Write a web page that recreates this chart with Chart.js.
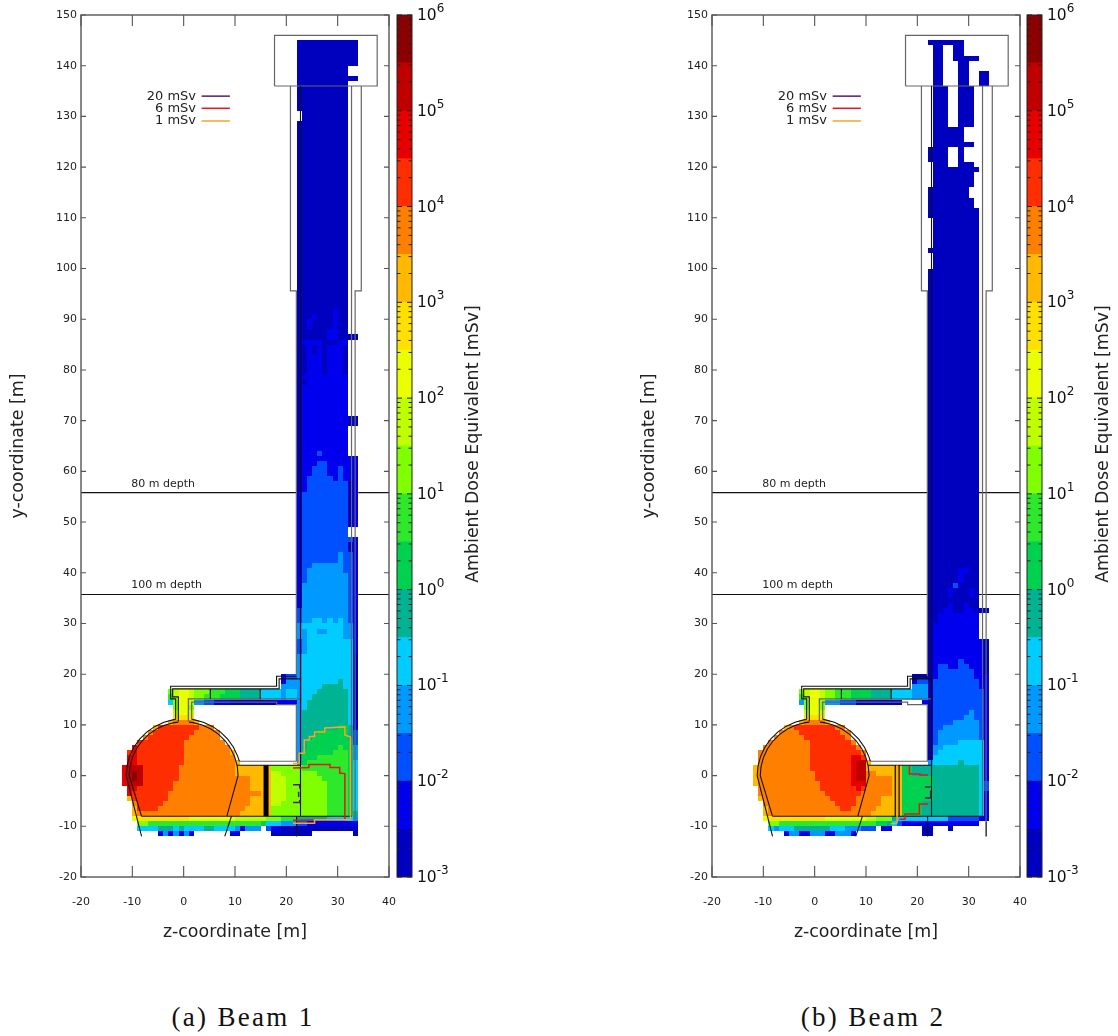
<!DOCTYPE html>
<html>
<head>
<meta charset="utf-8">
<title>Ambient dose equivalent</title>
<script src="https://cdn.jsdelivr.net/npm/chart.js@4/dist/chart.umd.min.js"></script>
<style>
  html, body { margin: 0; padding: 0; background: #fff; }
  #page { position: relative; width: 1118px; height: 1036px; overflow: hidden; }
  .box { position: absolute; top: 0; height: 960px; }
  .box canvas { filter: blur(0.35px); }
  .caption { position: absolute; top: 1002px; width: 300px; text-align: center; font: 27px "Liberation Serif", serif; letter-spacing: 2.3px; color: #111; }
</style>
</head>
<body>
<div id="page">
  <div class="box" style="left:0;width:400px"><canvas id="beam1"></canvas></div>
  <div class="box" style="left:380px;width:110px"><canvas id="bar1"></canvas></div>
  <div class="box" style="left:631px;width:400px"><canvas id="beam2"></canvas></div>
  <div class="box" style="left:1010px;width:110px"><canvas id="bar2"></canvas></div>
  <div class="caption" style="left:93px">(a) Beam 1</div>
  <div class="caption" style="left:723px">(b) Beam 2</div>
</div>
<script>
// dose bands, lowest first (half decades, mSv)
const doseEdges = [1e-3, 3.16e-3, 1e-2, 3.16e-2, 1e-1, 3.16e-1, 1, 3.16, 10, 31.6, 100, 316, 1e3, 3160, 1e4, 31600, 1e5, 316000, 1e6];
const doseColors = ['#0000bf', '#0000ef', '#0050ff', '#0099ff', '#00ccff', '#00b392', '#00d24f', '#2de82b', '#80ff00',
  '#bfff00', '#eaff00', '#ffe000', '#ffb900', '#ff8000', '#ff2e00', '#e60000', '#bf0000', '#8b0000'];
const doseDecades = [-3, -2, -1, 0, 1, 2, 3, 4, 5, 6];

// cell rows: [yFrom, yTo, z, band, z, band, ..., zEnd], band null = no score
const beam1Rows = [
  [140,144, 22,0,34], [138,139, 22,0,32], [137,137, 22,0,34], [131,136, 22,0,32], [129,130, 23,0,32],
  [92,128, 22,0,32], [91,91, 22,0,29,1,30,0,32], [90,90, 22,0,25,1,26,0,29,1,30,0,32],
  [88,89, 22,0,24,1,25,0,29,1,30,0,32], [87,87, 22,0,28,1,30,0,32], [86,86, 22,0,28,1,30,0,34],
  [85,85, 22,0,23,1,27,0,30,1,32], [83,84, 22,0,24,1,25,0,26,1,27,0,28,1,31,0,32],
  [79,82, 22,0,24,1,27,0,28,1,31,0,32], [78,78, 22,0,23,1,32], [77,77, 22,0,24,1,32], [71,76, 22,0,23,1,32],
  [69,70, 22,0,23,1,32,0,34], [64,68, 22,0,23,1,32], [63,63, 22,0,23,1,26,2,27,1,32], [62,62, 22,0,23,1,34],
  [61,61, 22,0,23,1,26,2,28,1,34], [59,60, 22,0,23,1,25,2,28,1,30,2,31,1,34], [58,58, 22,0,23,1,24,2,29,1,30,2,31,1,34],
  [56,57, 22,0,23,1,24,2,32,0,33,1,34], [49,55, 22,1,23,2,32,0,33,1,34], [47,48, 22,1,23,2,32], [46,46, 22,1,23,2,33,1,34],
  [44,45, 22,1,23,2,32,0,33,1,34], [42,43, 22,1,23,2,30,3,31,2,33,1,34], [41,41, 22,1,23,2,25,3,31,2,33,1,34],
  [40,40, 22,1,23,2,24,3,31,2,33,1,34], [38,39, 22,1,23,2,24,3,32,2,33,1,34], [33,37, 22,1,23,3,32,2,33,1,34],
  [31,32, 22,2,23,3,32,2,33,1,34], [30,30, 22,2,23,3,25,4,27,3,28,4,29,3,30,4,31,3,32,2,33,1,34],
  [29,29, 22,3,23,4,31,3,33,1,34], [28,28, 22,3,24,4,26,3,28,4,31,3,33,1,34], [27,27, 22,3,24,4,31,3,33,1,34],
  [24,26, 22,2,23,3,24,4,33,1,34], [20,23, 22,3,23,4,33,0,34],
  [19,19, 19,1,20,2,22,3,23,4,33,0,34], [18,18, 19,1,20,3,23,4,30,5,31,4,33,0,34], [17,17, 19,3,23,4,27,5,31,4,33,0,34],
  [16,16, -3,8,-2,9,-1,10,1,9,2,8,5,7,8,6,11,5,15,4,19,3,20,4,22,3,23,4,26,5,32,4,33,0,34],
  [15,15, -3,7,-2,9,-1,10,1,9,2,8,4,7,7,6,11,5,15,4,19,3,20,4,22,3,23,4,25,5,32,4,33,0,34],
  [14,14, -3,4,-2,8,-1,10,1,9,2,3,4,2,6,1,9,0,18,1,22,3,23,4,24,5,32,4,33,0,34],
  [13,13, -2,8,-1,10,1,8,2,null,22,3,23,4,24,5,32,4,33,0,34],
  [12,12, -2,9,-1,10,1,9,2,null,22,3,23,5,32,4,33,0,34],
  [11,11, -2,11,2,null,22,3,23,5,32,4,33,0,34],
  [10,10, -3,12,-2,13,2,12,3,null,22,3,23,5,32,4,33,1,34],
  [9,9, -6,12,-5,14,3,13,6,null,22,3,23,5,30,6,32,5,33,1,34],
  [8,8, -7,13,-6,14,2,13,7,null,22,3,23,5,26,6,32,5,33,2,34],
  [7,7, -8,13,-7,14,1,13,7,null,22,3,23,5,25,6,32,5,33,2,34],
  [6,6, -9,14,0,13,8,null,22,3,23,5,24,6,33,2,34],
  [5,5, -10,15,-9,14,0,13,9,null,22,3,23,5,24,6,30,7,31,6,33,3,34],
  [4,4, -11,14,-10,15,-9,14,0,13,9,12,10,null,22,3,23,6,29,7,32,6,33,3,34],
  [3,3, -11,15,-9,14,0,13,10,null,22,3,23,6,26,7,32,6,33,3,34],
  [2,2, -11,15,-9,14,0,13,10,12,11,null,22,3,23,6,24,7,32,6,33,4,34],
  [1,1, -12,15,-11,16,-8,14,-1,13,10,12,17,8,23,7,32,6,33,4,34],
  [0,0, -12,15,-11,16,-10,17,-9,16,-8,14,-1,13,10,12,17,9,19,8,26,7,32,6,33,4,34],
  [-1,-1, -12,15,-11,16,-10,17,-9,16,-8,14,-1,13,13,12,17,9,20,8,27,7,32,6,33,4,34],
  [-2,-2, -12,15,-11,16,-8,14,-2,13,13,12,17,9,20,8,28,7,32,6,33,4,34],
  [-3,-3, -11,15,-9,14,-2,13,13,12,17,9,20,8,28,7,32,6,33,4,34],
  [-4,-4, -11,15,-10,14,-3,13,15,12,17,9,20,8,28,7,32,6,33,4,34],
  [-5,-5, -11,12,-10,14,-3,13,13,12,17,9,20,8,28,7,32,6,33,4,34],
  [-6,-6, -10,13,-9,14,-4,13,13,12,17,9,19,8,28,7,32,6,33,4,34],
  [-7,-7, -10,12,-9,14,-5,13,12,12,17,8,28,7,32,6,33,4,34],
  [-8,-8, -10,12,-9,13,11,12,17,8,28,7,32,6,33,5,34],
  [-9,-9, -10,10,-9,11,1,10,10,9,16,8,19,7,22,5,28,4,33,3,34],
  [-10,-10, -9,8,-7,7,15,6,16,4,19,3,22,2,24,1,34],
  [-11,-11, -9,4,-5,5,-2,4,-1,5,0,4,4,5,6,4,10,3,11,1,12,3,15,null,16,2,17,1,19,0,34],
  [-12,-12, -5,1,-4,3,-3,1,-2,3,-1,1,0,3,1,1,2,null,9,1,11,null,17,0,25,null,33,0,34],
];

const beam2Rows = [
  [144,144, 22,0,29], [142,143, 23,0,25,null,27,0,29], [141,141, 23,0,25,null,27,0,32], [139,140, 23,0,25,null,28,0,30],
  [136,138, 23,0,25,null,28,0,30,null,32,0,34], [128,135, 23,0,26,null,28,0,31], [125,127, 23,0,29], [124,124, 23,0,31],
  [121,123, 22,0,26,null,28,0,29], [120,120, 23,0,26,null,28,0,31], [119,119, 23,0,32], [116,118, 23,0,31],
  [114,115, 22,0,30], [112,113, 22,0,31], [110,111, 22,0,32], [104,109, 23,0,32], [103,103, 22,0,32], [100,102, 23,0,32],
  [41,99, 22,0,32], [40,40, 22,0,28,1,30,0,32], [38,39, 22,0,28,1,29,0,32], [37,37, 22,0,27,2,28,0,32],
  [35,36, 22,0,26,1,27,0,30,1,31,0,32], [34,34, 22,0,32], [33,33, 22,0,26,1,27,0,29,1,30,0,32],
  [32,32, 22,0,25,1,27,0,29,1,31,0,34], [30,31, 22,0,24,1,32], [27,29, 22,0,23,1,32],
  [23,26, 22,0,23,1,33,0,34], [22,22, 22,0,23,1,28,2,29,1,33,0,34], [21,21, 22,0,23,1,24,2,26,1,28,2,30,1,33,0,34],
  [20,20, 22,0,23,1,24,2,31,1,33,0,34], [19,19, 19,0,23,1,24,2,31,1,33,1,34], [18,18, 19,0,20,2,22,0,23,2,32,1,34],
  [17,17, 19,3,22,0,23,2,32,1,34],
  [16,16, -3,8,-2,9,-1,10,1,9,2,8,4,7,7,6,11,5,15,4,19,3,22,0,23,2,33,1,34],
  [15,15, -3,7,-2,9,-1,10,1,9,2,8,4,7,7,6,11,5,15,4,19,3,22,0,23,2,33,1,34],
  [14,14, -3,3,-2,8,-1,10,1,8,2,3,5,2,8,0,17,null,21,1,22,0,23,2,33,1,34],
  [13,13, -2,8,-1,10,1,8,2,null,22,0,23,2,33,1,34],
  [12,12, -2,9,-1,10,1,9,2,null,22,0,23,2,30,3,31,2,33,1,34],
  [11,11, -2,11,2,null,22,0,23,2,29,3,31,2,33,1,34],
  [10,10, -3,12,-2,13,2,12,3,null,22,0,23,2,27,3,32,2,33,1,34],
  [9,9, -6,12,-5,13,-4,14,4,13,6,null,22,0,23,2,25,3,32,2,33,1,34],
  [8,8, -7,13,-3,14,5,13,7,null,22,0,23,2,24,3,32,2,33,1,34],
  [7,7, -8,13,-2,14,6,13,7,null,22,0,23,2,24,3,32,2,33,1,34],
  [6,6, -9,13,-1,14,7,13,8,null,22,0,23,2,24,3,28,4,33,1,34],
  [5,5, -10,13,-1,14,8,13,9,null,22,0,23,3,25,4,33,1,34],
  [4,4, -11,13,-1,14,9,13,10,null,22,0,23,3,24,4,33,1,34],
  [3,3, -11,13,-1,14,7,15,9,14,10,null,22,0,23,4,33,1,34],
  [2,2, -11,13,-1,14,7,15,8,16,10,12,11,null,22,3,23,4,28,5,29,4,33,1,34],
  [1,1, -12,12,-11,13,-1,14,7,15,8,16,10,12,17,6,19,5,32,4,33,1,34],
  [0,0, -12,12,-11,13,0,14,7,15,8,16,10,13,12,12,17,6,19,5,32,4,33,1,34],
  [-1,-1, -12,12,-11,13,0,14,7,15,8,16,10,13,15,12,17,6,23,5,32,4,33,1,34],
  [-2,-2, -12,12,-11,13,1,14,7,15,10,13,15,12,17,6,23,5,32,4,33,2,34],
  [-3,-3, -11,13,1,14,8,15,9,14,10,13,15,12,17,6,23,5,32,4,33,2,34],
  [-4,-4, -11,13,2,14,9,13,15,12,17,6,23,5,32,4,33,1,34],
  [-5,-5, -11,12,-10,13,3,14,8,13,13,12,17,6,23,5,32,4,33,1,34],
  [-6,-6, -10,13,4,14,8,13,13,12,17,6,21,5,32,4,33,1,34],
  [-7,-7, -10,12,-9,13,5,14,7,13,12,12,17,6,21,5,32,4,33,1,34],
  [-8,-8, -10,12,-9,13,11,12,17,6,21,5,32,4,33,1,34],
  [-9,-9, -10,10,-9,11,2,10,10,9,12,8,15,5,16,4,26,2,32,1,34],
  [-10,-10, -9,8,-7,7,12,6,14,5,15,4,16,2,17,1,32],
  [-11,-11, -9,4,-8,3,-7,4,-4,5,3,4,6,3,9,2,12,null,13,1,15,null,21,0,23,null,26,0,27],
  [-12,-12, -6,1,-5,3,-3,1,-1,3,2,1,4,3,7,1,8,null,21,0,23],
];

// geometry lines as [z, y] paths
const wallsBlack = [
  [[22.76,136],[22.76,-8.03]],
  [[-8.2,-8.03],[32.8,-8.03]],
  [[-1.04,10.55],[-1.84,10.44],[-3.63,9.96],[-5.3,9.18],[-6.81,8.12],[-8.12,6.82],[-9.18,5.3],[-9.96,3.63],[-10.44,1.84],[-10.6,0],[-8.2,-8.03]],
  [[1.04,10.55],[1.84,10.44],[3.63,9.96],[5.3,9.18],[6.81,8.12],[8.12,6.82],[9.18,5.3],[9.96,3.63],[10.44,1.84],[10.6,0],[8.4,-8.03]],
  [[-1.56,11.1],[-1.94,11.03],[-3.83,10.52],[-5.6,9.7],[-7.2,8.58],[-8.58,7.2],[-9.7,5.6],[-10.52,3.83],[-11.03,1.94],[-11.2,0],[-8.2,-12]],
  [[1.56,11.1],[1.94,11.03],[3.83,10.52],[5.6,9.7],[7.2,8.58],[8.58,7.2],[9.7,5.6],[10.52,3.83],[10.85,2.83]],
  [[10.5,2.04],[22.76,2.04]],
  [[9.3,-8.03],[8,-12]],
  [[-1.04,10.7],[-1.04,15.53],[-2.14,15.53],[-2.14,17.1],[18.6,17.1],[18.6,19.08],[22.76,19.08]],
  [[-1.56,11],[-1.56,15.13],[-2.53,15.13],[-2.53,17.63],[18.1,17.63],[18.1,19.6],[21.95,19.6]],
  [[5.2,15.13],[5.2,17.1]], [[14.9,15.13],[14.9,17.1]],
  [[22,-8.03],[22,-12]],
];
const wallsGray = [
  [[17.7,136],[37.7,136],[37.7,146],[17.7,146],[17.7,136]],
  [[21.95,19.6],[21.95,95.6],[20.8,95.6],[20.8,136]],
  [[34.6,136],[34.6,95.6],[33.4,95.6],[33.4,-9]],
  [[32.7,136],[32.7,-8.03]],
  [[0.91,10.7],[0.91,15.13],[22.76,15.13]],
  [[1.56,11.1],[1.56,14.47],[18.1,14.47],[18.1,14],[21.95,14],[21.95,2.83],[10.85,2.83]],
];
const beam1Block = [[[16.05,2.04],[16.05,-8.03]]];
const beam2Block = [[[15.7,2.04],[15.7,-8.03]], [[16.45,2.04],[16.45,-8.03]], [[33.4,-9],[33.4,-12]]];
const beam1Depth = [[[-20,55.8],[21.95,55.8]], [[34,55.8],[40,55.8]], [[-20,35.7],[21.95,35.7]], [[34,35.7],[40,35.7]]];
const beam2Depth = [[[-20,55.8],[21.95,55.8]], [[32,55.8],[40,55.8]], [[-20,35.7],[21.95,35.7]], [[32,35.7],[40,35.7]]];

// dose contours
const beam1Mark1 = [[[21.3,2.4],[22.5,2.4],[22.5,4.4],[23.5,4.4],[23.5,7],[24.5,7],[24.5,7.7],[25.5,7.7],[25.5,8.6],[27.5,8.6],[27.5,9.4],[31.4,9.6],[31.4,8],[32.5,7.6],[32.5,-8.7],[25.5,-8.7],[25.5,-9.4],[21.3,-9.4]]];
const beam1Mark6 = [[[21.3,1.5],[24.4,1.6],[24.4,2.2],[28.5,2.2],[28.5,1.6],[30.4,1.6],[30.4,0.5],[31.4,0.4],[31.4,-8.7],[21.3,-8.8]]];
const beam1Mark20 = [[[21.3,-1.8],[22.6,-1.8],[22.6,-2.6]], [[22.4,-3.2],[22.4,-4.2]], [[22.6,-4.8],[22.6,-5.3],[21.3,-5.3]]];
const beam2Mark1 = [[[16.05,2],[16.05,-9.3],[14.8,-9.5]]];
const beam2Mark6 = [[[18.45,1.95],[18.45,0.3],[20.5,0.3],[20.5,0.1],[22.1,0.1]], [[22.1,-5.6],[20.4,-5.6],[20.4,-7.6],[17.6,-7.6],[17.6,-8.6],[16.5,-8.6]]];
const beam2Mark20 = [[[21.5,-2.25],[22.6,-2.25]], [[22.6,-3],[22.6,-4.4],[21.5,-4.4]]];

const keyLabels = ['20 mSv', '6 mSv', '1 mSv'];
const keyColors = ['#5a1a6e', '#e8141a', '#f5a623'];
const keyRows = [134, 131.6, 129.1];
const depthNotes = [['80 m depth', 57.4], ['100 m depth', 37.5]];

const FONT = '"DejaVu Sans", sans-serif';
Chart.defaults.font.family = FONT;
Chart.defaults.color = '#222';

function toPoints(paths) {
  const pts = [];
  paths.forEach((path) => {
    path.forEach(([x, y]) => pts.push({ x, y }));
    pts.push({ x: NaN, y: NaN });
  });
  return pts;
}

function lineSet(label, paths, color, width) {
  return { label, data: toPoints(paths), showLine: true, borderColor: color, borderWidth: width, pointRadius: 0, spanGaps: false, fill: false };
}

function cellSets(rows) {
  const sets = doseColors.map((color, i) => ({ label: 'band ' + i, cellBand: i, cellColor: color, data: [], showLine: false, pointRadius: 0 }));
  rows.forEach((row) => {
    for (let i = 2; i < row.length - 1; i += 2) {
      if (row[i + 1] === null) continue;
      sets[row[i + 1]].data.push({ x: row[i], x2: row[i + 2], y: row[0], y2: row[1] + 1 });
    }
  });
  return sets;
}

// paints the dose cells under the geometry lines
const cellPlugin = {
  id: 'cells',
  beforeDatasetsDraw(chart) {
    const { ctx, scales: { x, y } } = chart;
    chart.data.datasets.forEach((set) => {
      if (set.cellColor === undefined) return;
      ctx.fillStyle = set.cellColor;
      set.data.forEach((c) => {
        const l = Math.round(x.getPixelForValue(c.x));
        const r = Math.round(x.getPixelForValue(c.x2));
        const t = Math.round(y.getPixelForValue(c.y2));
        const b = Math.round(y.getPixelForValue(c.y));
        ctx.fillRect(l, t, r - l, b - t);
      });
    });
  },
};

// gnuplot style frame with inward ticks, contour key and depth notes
const framePlugin = {
  id: 'frame',
  afterDatasetsDraw(chart) {
    const { ctx, chartArea: a, scales: { x, y } } = chart;
    ctx.save();
    ctx.strokeStyle = '#555';
    ctx.lineWidth = 1.4;
    ctx.strokeRect(a.left, a.top, a.right - a.left, a.bottom - a.top);
    ctx.lineWidth = 1.1;
    ctx.beginPath();
    x.ticks.forEach((t) => {
      const px = x.getPixelForValue(t.value);
      ctx.moveTo(px, a.bottom); ctx.lineTo(px, a.bottom - 11);
      ctx.moveTo(px, a.top); ctx.lineTo(px, a.top + 11);
    });
    y.ticks.forEach((t) => {
      const py = y.getPixelForValue(t.value);
      ctx.moveTo(a.left, py); ctx.lineTo(a.left + 5, py);
      ctx.moveTo(a.right, py); ctx.lineTo(a.right - 5, py);
    });
    ctx.stroke();

    ctx.fillStyle = '#222';
    ctx.font = '11px ' + FONT;
    ctx.textBaseline = 'middle';
    ctx.textAlign = 'left';
    depthNotes.forEach(([text, yVal]) => ctx.fillText(text, x.getPixelForValue(-10.2), y.getPixelForValue(yVal)));
    ctx.font = '13px ' + FONT;
    ctx.textAlign = 'right';
    keyLabels.forEach((text, i) => {
      const py = y.getPixelForValue(keyRows[i]);
      ctx.fillStyle = '#222';
      ctx.fillText(text, x.getPixelForValue(2.4), py);
      ctx.strokeStyle = keyColors[i];
      ctx.lineWidth = 1.5;
      ctx.beginPath();
      ctx.moveTo(x.getPixelForValue(3.5), py);
      ctx.lineTo(x.getPixelForValue(9), py);
      ctx.stroke();
    });
    ctx.restore();
  },
};

function createBeamChart(canvasId, { rows, block, blockWidth, depth, mark1, mark6, mark20 }) {
  return new Chart(document.getElementById(canvasId), {
    type: 'scatter',
    data: {
      datasets: [
        lineSet('1 mSv', mark1, keyColors[2], 1.5),
        lineSet('6 mSv', mark6, keyColors[1], 1.5),
        lineSet('20 mSv', mark20, keyColors[0], 1.5),
        lineSet('walls', wallsBlack, '#111', 1.1),
        lineSet('walls gray', wallsGray, '#666', 1.2),
        lineSet('block', block, '#000', blockWidth),
        lineSet('depth', depth, '#111', 1.1),
        ...cellSets(rows),
      ],
    },
    options: {
      responsive: true,
      maintainAspectRatio: false,
      animation: false,
      layout: { padding: { top: 15, right: 11, bottom: 17, left: 0 } },
      plugins: { legend: { display: false }, tooltip: { enabled: false } },
      scales: {
        x: {
          type: 'linear', min: -20, max: 40,
          grid: { display: false, drawTicks: true, tickLength: 19 }, border: { display: false },
          ticks: { stepSize: 10, autoSkip: false, maxRotation: 0, padding: 0, font: { size: 11 }, callback: (v) => String(v) },
          title: { display: true, text: 'z-coordinate [m]', font: { size: 17.4 }, color: '#222', padding: 0 },
          afterFit(scale) { scale.height = 66; },
        },
        y: {
          type: 'linear', min: -20, max: 150,
          grid: { display: false, drawTicks: false }, border: { display: false },
          ticks: { stepSize: 10, autoSkip: false, padding: 4, font: { size: 11 }, callback: (v) => String(v) },
          title: { display: true, text: 'y-coordinate [m]', font: { size: 17.4 }, color: '#222', padding: { top: 8, bottom: 0 } },
          afterFit(scale) { scale.width = 81; },
        },
      },
    },
    plugins: [cellPlugin, framePlugin],
  });
}

// colour bar frame, log ticks, labels and rotated title
const barPlugin = {
  id: 'barAxis',
  afterDatasetsDraw(chart) {
    const { ctx, chartArea: a, scales: { y } } = chart;
    ctx.save();
    ctx.strokeStyle = '#222';
    ctx.lineWidth = 1;
    ctx.strokeRect(a.left, a.top, a.right - a.left, a.bottom - a.top);
    ctx.beginPath();
    doseDecades.forEach((d) => {
      for (let m = 1; m < 10; m++) {
        if (d === 6 && m > 1) break;
        const py = y.getPixelForValue(m * Math.pow(10, d));
        const len = m === 1 ? 5 : 3.5;
        ctx.moveTo(a.left, py); ctx.lineTo(a.left + len, py);
        ctx.moveTo(a.right, py); ctx.lineTo(a.right - len, py);
      }
    });
    ctx.stroke();

    ctx.fillStyle = '#111';
    ctx.textAlign = 'left';
    ctx.textBaseline = 'alphabetic';
    doseDecades.forEach((d) => {
      const py = y.getPixelForValue(Math.pow(10, d));
      const lx = a.right + 5;
      ctx.font = '15.5px ' + FONT;
      ctx.fillText('10', lx, py + 5);
      const w = ctx.measureText('10').width;
      ctx.font = '12px ' + FONT;
      ctx.fillText(String(d), lx + w, py - 3);
    });
    ctx.translate(a.right + 61, (a.top + a.bottom) / 2 - 2);
    ctx.rotate(-Math.PI / 2);
    ctx.textAlign = 'center';
    ctx.textBaseline = 'middle';
    ctx.font = '17.4px ' + FONT;
    ctx.fillStyle = '#222';
    ctx.fillText('Ambient Dose Equivalent [mSv]', 0, 0);
    ctx.restore();
  },
};

function createColorBar(canvasId) {
  return new Chart(document.getElementById(canvasId), {
    type: 'bar',
    data: {
      labels: ['dose'],
      datasets: doseColors.map((color, i) => ({
        label: 'band ' + i,
        data: [[doseEdges[i], doseEdges[i + 1]]],
        backgroundColor: color,
        borderWidth: 0,
        grouped: false,
        barPercentage: 1,
        categoryPercentage: 1,
      })),
    },
    options: {
      responsive: true,
      maintainAspectRatio: false,
      animation: false,
      layout: { padding: { top: 15, right: 78, bottom: 83, left: 17 } },
      plugins: { legend: { display: false }, tooltip: { enabled: false } },
      scales: {
        x: { display: false },
        y: { display: false, type: 'logarithmic', min: 1e-3, max: 1e6 },
      },
    },
    plugins: [barPlugin],
  });
}

createBeamChart('beam1', { rows: beam1Rows, block: beam1Block, blockWidth: 5, depth: beam1Depth, mark1: beam1Mark1, mark6: beam1Mark6, mark20: beam1Mark20 });
createBeamChart('beam2', { rows: beam2Rows, block: beam2Block, blockWidth: 1.2, depth: beam2Depth, mark1: beam2Mark1, mark6: beam2Mark6, mark20: beam2Mark20 });
createColorBar('bar1');
createColorBar('bar2');
</script>
</body>
</html>
